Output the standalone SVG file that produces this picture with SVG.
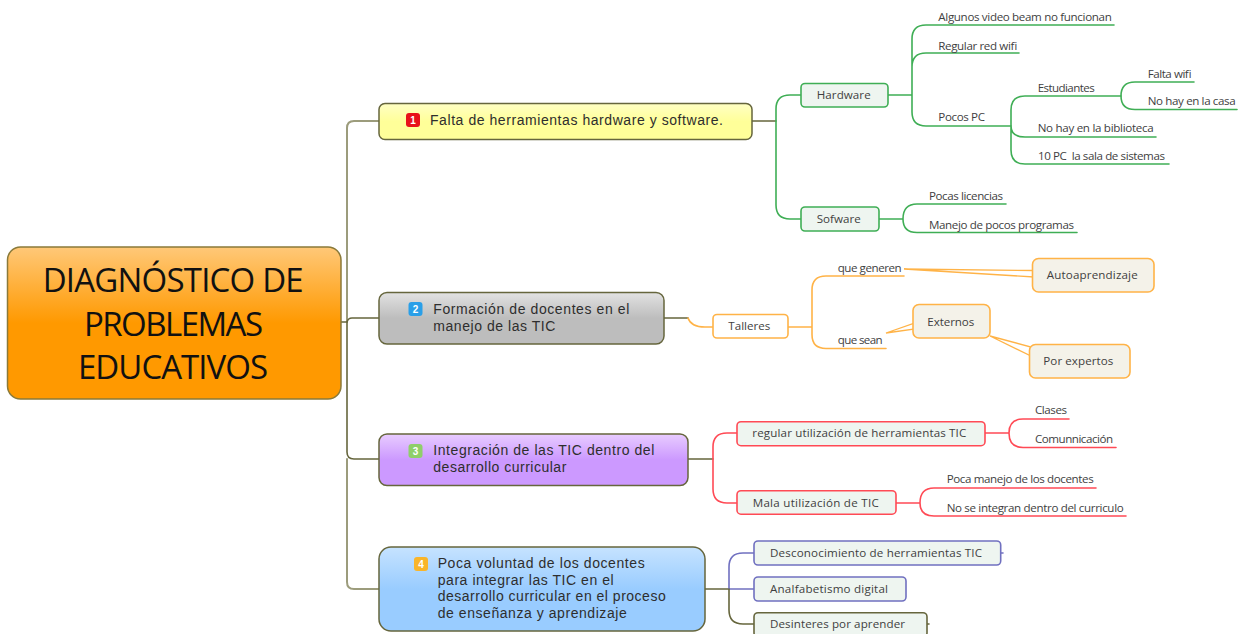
<svg xmlns="http://www.w3.org/2000/svg" width="1241" height="634" viewBox="0 0 1241 634">
<style>
text{font-family:"Open Sans","Noto Sans","Liberation Sans",sans-serif;font-size:11.6px;fill:#3f3f3f;white-space:pre}
.main{font-size:33px;fill:#111}
.topic{font-family:"Liberation Sans",Arial,sans-serif;font-size:14px;fill:#2e2e2e}
.num{font-family:"Liberation Sans",Arial,sans-serif;font-size:10px;font-weight:bold;fill:#fff;text-anchor:middle}
.t{stroke:#66663d;stroke-width:1.5}
.c{fill:none;stroke-width:1.6;stroke-linecap:round}
.light{stroke:#9c9c7c;stroke-width:2}
.dark{stroke:#66663d}
.green{stroke:#3fae55}
.orange{stroke:#ffb347}
.red{stroke:#ff4a55}
.blue{stroke:#7070c0}
.wedge{fill:#fff;stroke:#ffb347;stroke-width:1.3}
.bg{fill:#eef5f0;stroke-width:1.6}
.ob{fill:#f4f2e9;stroke:#ffb347;stroke-width:1.6}
</style>
<defs>
<linearGradient id="gMain" x1="0" y1="0" x2="0" y2="1"><stop offset="0" stop-color="#ffc878"/><stop offset="0.5" stop-color="#ff9900"/><stop offset="1" stop-color="#ff9900"/></linearGradient>
<linearGradient id="g1" x1="0" y1="0" x2="0" y2="1"><stop offset="0" stop-color="#ffffc4"/><stop offset="0.5" stop-color="#ffff99"/><stop offset="1" stop-color="#ffff99"/></linearGradient>
<linearGradient id="g2" x1="0" y1="0" x2="0" y2="1"><stop offset="0" stop-color="#e2e2e2"/><stop offset="0.5" stop-color="#bdbdbd"/><stop offset="1" stop-color="#bdbdbd"/></linearGradient>
<linearGradient id="g3" x1="0" y1="0" x2="0" y2="1"><stop offset="0" stop-color="#e8ccff"/><stop offset="0.5" stop-color="#cc99ff"/><stop offset="1" stop-color="#cc99ff"/></linearGradient>
<linearGradient id="g4" x1="0" y1="0" x2="0" y2="1"><stop offset="0" stop-color="#c6e3ff"/><stop offset="0.5" stop-color="#99ccff"/><stop offset="1" stop-color="#99ccff"/></linearGradient>
</defs>
<rect width="1241" height="634" fill="#fff"/>
<g id="connectors">
<path class="c light" d="M379 121H354Q347 121 347 128V322"/>
<path class="c dark" d="M341 322H347Q348 318 352 318H379"/>
<path class="c dark" d="M347 322V452Q347 459 354 459H379"/>
<path class="c light" d="M347 459V582Q347 589 354 589H379"/>
<path class="c dark" d="M752 121H776"/>
<path class="c green" d="M776 121V109Q776 95 790 95H801M776 121V205Q776 219 790 219H801"/>
<path class="c green" d="M888 95H912M912 95V39Q912 25 926 25H1114M912 95V67Q912 53 926 53H1019M912 95V112Q912 126 926 126H1011"/>
<path class="c green" d="M1011 126V110Q1011 96 1025 96H1121M1011 126Q1011 137 1025 137H1156M1011 126V150Q1011 164 1025 164H1169"/>
<path class="c green" d="M1121 96Q1121 82 1135 82H1194M1121 96Q1121 109.500 1135 109.500H1237"/>
<path class="c green" d="M879 219H903M903 219Q903 204 917 204H1006M903 219Q903 232.500 917 232.500H1077"/>
<path class="c dark" d="M664 318H688"/>
<path class="c orange" d="M688 318Q691 327 705 327H713"/>
<path class="c orange" d="M788 327H812M812 327V290Q812 276 826 276H904M812 327V334.500Q812 348.500 826 348.500H886"/>
<path class="wedge" d="M904 269L1034 270.500V277Z"/>
<path class="wedge" d="M886 333L915 323V329Z"/>
<path class="wedge" d="M990 336L1031 347V356Z"/>
<path class="c dark" d="M688 459H713"/>
<path class="c red" d="M713 459V447Q713 433 727 433H737M713 459V489Q713 503 727 503H737"/>
<path class="c red" d="M985 433H1009M1009 433Q1009 419 1023 419H1069M1009 433Q1009 447.500 1023 447.500H1116"/>
<path class="c red" d="M896 503H920M920 503Q920 488 934 488H1096M920 503Q920 516 934 516H1126"/>
<path class="c dark" d="M705 589H729"/>
<path class="c blue" d="M729 589V567Q729 553 743 553H754M729 589H754M1001 553H1003"/>
<path class="c dark" d="M729 589V610Q729 624 743 624H754M927 624H929"/>
</g>
<g id="central"><rect x="7.500" y="247" width="333.500" height="152" rx="13" fill="url(#gMain)" stroke="#8a7a3a" stroke-width="1.500"/>
<text class="main" x="42.700" y="291.500" textLength="261">DIAGNÓSTICO DE</text>
<text class="main" x="84" y="335.500" textLength="179">PROBLEMAS</text>
<text class="main" x="78" y="379" textLength="190">EDUCATIVOS</text></g>
<g id="topic1"><rect class="t" x="379" y="103.500" width="373" height="36" rx="6" fill="url(#g1)"/>
<rect x="406" y="113" width="14" height="14" rx="3" fill="#e8121a"/><text class="num" x="413" y="124">1</text>
<text class="topic" x="430" y="125" textLength="293">Falta de herramientas hardware y software.</text></g>
<g id="topic2"><rect class="t" x="379" y="292.500" width="285" height="51.500" rx="8" fill="url(#g2)"/>
<rect x="408.500" y="302" width="14" height="14" rx="3" fill="#2a9fe8"/><text class="num" x="415.500" y="313">2</text>
<text class="topic" x="433.300" y="313.500" textLength="196">Formación de docentes en el</text>
<text class="topic" x="433.300" y="330.500" textLength="122">manejo de las TIC</text></g>
<g id="topic3"><rect class="t" x="379" y="434" width="309" height="51.500" rx="8" fill="url(#g3)"/>
<rect x="408.500" y="444" width="14" height="14" rx="3" fill="#8fcf6a"/><text class="num" x="415.500" y="455">3</text>
<text class="topic" x="433.300" y="455" textLength="221">Integración de las TIC dentro del</text>
<text class="topic" x="433.300" y="472" textLength="133">desarrollo curricular</text></g>
<g id="topic4"><rect class="t" x="379" y="547" width="326" height="84" rx="12" fill="url(#g4)"/>
<rect x="414" y="557" width="14" height="14" rx="3" fill="#f9b52a"/><text class="num" x="421" y="568">4</text>
<text class="topic" x="437.700" y="567.500" textLength="207">Poca voluntad de los docentes</text>
<text class="topic" x="437.700" y="584.500" textLength="176">para integrar las TIC en el</text>
<text class="topic" x="437.700" y="601" textLength="228">desarrollo curricular en el proceso</text>
<text class="topic" x="437.700" y="618" textLength="189">de enseñanza y aprendizaje</text></g>
<g id="hardware"><rect class="bg green" x="801" y="83.500" width="87" height="23.500" rx="4"/><text x="816.700" y="99" textLength="54">Hardware</text></g>
<g id="sofware"><rect class="bg green" x="801" y="207" width="78" height="24" rx="4"/><text x="816.700" y="223" textLength="44">Sofware</text></g>
<g id="n-algunos"><text x="938.300" y="21" textLength="173.500">Algunos video beam no funcionan</text></g>
<g id="n-regular"><text x="938.300" y="49.500" textLength="79">Regular red wifi</text></g>
<g id="n-pocospc"><text x="938.300" y="121" textLength="46.700">Pocos PC</text></g>
<g id="n-estudiantes"><text x="1037.700" y="91.500" textLength="57">Estudiantes</text></g>
<g id="n-falta"><text x="1147.700" y="77.500" textLength="44">Falta wifi</text></g>
<g id="n-casa"><text x="1147.700" y="105.300" textLength="88">No hay en la casa</text></g>
<g id="n-biblioteca"><text x="1037.700" y="132.300" textLength="116">No hay en la biblioteca</text></g>
<g id="n-10pc"><text x="1038" y="159.500" textLength="127">10 PC  la sala de sistemas</text></g>
<g id="n-licencias"><text x="929" y="199.500" textLength="74">Pocas licencias</text></g>
<g id="n-manejo"><text x="929" y="228.500" textLength="145">Manejo de pocos programas</text></g>
<g id="talleres"><rect x="713" y="314.500" width="75" height="23.500" rx="4" fill="#fff" stroke="#ffb347" stroke-width="1.600"/><text x="728.300" y="330" textLength="42">Talleres</text></g>
<g id="n-generen"><text x="837.700" y="271.500" textLength="64">que generen</text></g>
<g id="n-sean"><text x="837.700" y="343.500" textLength="45">que sean</text></g>
<g id="autoaprendizaje"><rect class="ob" x="1032.500" y="258.500" width="121.500" height="33.500" rx="6"/><text x="1046.700" y="279" textLength="91">Autoaprendizaje</text></g>
<g id="externos"><rect class="ob" x="913" y="304.500" width="77" height="33.500" rx="6"/><text x="927.300" y="325.500" textLength="47">Externos</text></g>
<g id="expertos"><rect class="ob" x="1029.500" y="344.500" width="100.500" height="33.500" rx="6"/><text x="1043.300" y="365" textLength="70">Por expertos</text></g>
<g id="regular-uso"><rect class="bg red" x="737" y="421.700" width="248" height="24" rx="4"/><text x="752.300" y="437.300" textLength="214">regular utilización de herramientas TIC</text></g>
<g id="mala-uso"><rect class="bg red" x="737" y="490.700" width="159" height="23.500" rx="4"/><text x="752.700" y="506.500" textLength="126">Mala utilización de TIC</text></g>
<g id="n-clases"><text x="1035" y="414" textLength="32">Clases</text></g>
<g id="n-comunicacion"><text x="1035" y="443" textLength="78">Comunnicación</text></g>
<g id="n-poca"><text x="946.700" y="483" textLength="147">Poca manejo de los docentes</text></g>
<g id="n-nose"><text x="946.700" y="511.500" textLength="177">No se integran dentro del curriculo</text></g>
<g id="desconocimiento"><rect class="bg blue" x="754" y="541" width="246.700" height="24" rx="4"/><text x="770" y="557" textLength="212">Desconocimiento de herramientas TIC</text></g>
<g id="analfabetismo"><rect class="bg blue" x="754" y="577" width="152" height="24" rx="4"/><text x="770" y="592.500" textLength="118">Analfabetismo digital</text></g>
<g id="desinteres"><rect class="bg dark" x="754" y="612.700" width="173" height="24" rx="4"/><text x="770" y="628" textLength="135">Desinteres por aprender</text></g>
</svg>
